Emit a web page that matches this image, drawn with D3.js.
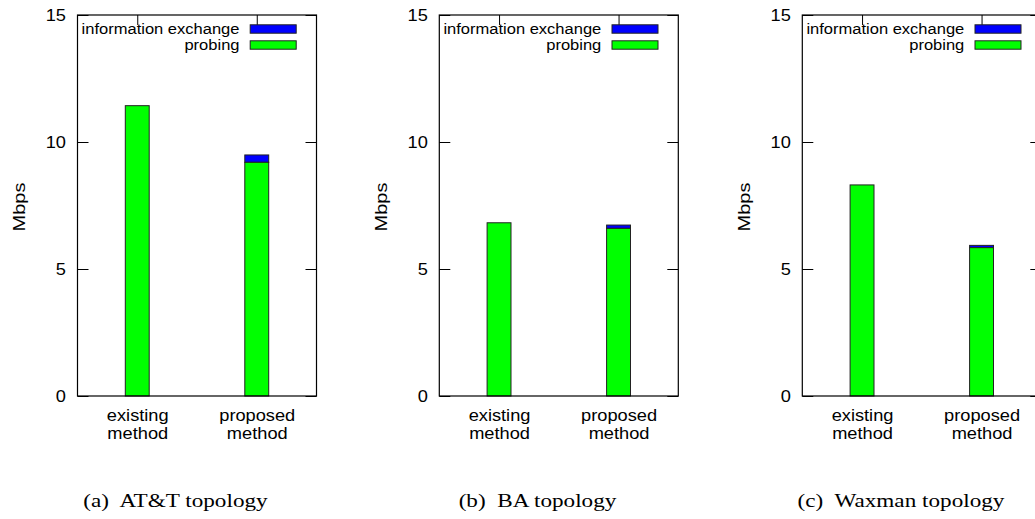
<!DOCTYPE html>
<html>
<head>
<meta charset="utf-8">
<script src="https://cdn.jsdelivr.net/npm/d3@7"></script>
<style>
  html, body { margin: 0; padding: 0; background: #fff; }
  svg { display: block; }
  text { font-family: "Liberation Sans", Arial, Helvetica, sans-serif; fill: #000; }
  .cap { font-family: "Liberation Serif", "Times New Roman", serif; white-space: pre; }
</style>
</head>
<body>
<svg id="chart" width="1035" height="519"></svg>
<script>
// ---------- data ----------
const categories = [["existing", "method"], ["proposed", "method"]];
const captions = ["(a)  AT&T topology", "(b)  BA topology", "(c)  Waxman topology"];
const seriesNames = ["information exchange", "probing"];
const seriesColors = ["#0000ff", "#00ff00"];
const probingATT = [11.43, 9.2];
const infoATT = [0, 0.29];
const probingBA = [6.82, 6.60];
const infoBA = [0, 0.13];
const probingWaxman = [8.31, 5.84];
const infoWaxman = [0, 0.09];
const yTicks = [0, 5, 10, 15];
const yLabel = "Mbps";

const probing = [probingATT, probingBA, probingWaxman];
const info = [infoATT, infoBA, infoWaxman];

// ---------- layout ----------
const svg = d3.select("#chart");
const panelLeft = [77.5, 439.3, 802.3];
const captionX = [175.5, 537.5, 901];
const plotW = 239, plotTop = 15, plotBottom = 396;
const sansScale = 1.14, serifScale = 1.22;

function stretchText(sel, x, y, sx, rot) {
  sel.attr("transform", `translate(${x},${y})` + (rot ? ` rotate(${rot})` : "") + ` scale(${sx},1)`);
}

panelLeft.forEach((left, p) => {
  const g = svg.append("g");
  const x = d3.scaleLinear().domain([-0.5, 1.5]).range([left, left + plotW]);
  const y = d3.scaleLinear().domain([0, 15]).range([plotBottom, plotTop]);
  const barW = x(0.1) - x(-0.1);

  // bars (stacked: probing at bottom, info on top)
  const data = categories.map((c, i) => ({ i, probing: probing[p][i], info: info[p][i] }));
  data.forEach(d => {
    if (d.info > 0) {
      g.append("rect")
        .attr("x", x(d.i) - barW / 2).attr("width", barW)
        .attr("y", y(d.probing + d.info)).attr("height", y(d.probing) - y(d.probing + d.info))
        .attr("fill", seriesColors[0]).attr("stroke", "#222").attr("stroke-width", 1);
    }
    g.append("rect")
      .attr("x", x(d.i) - barW / 2).attr("width", barW)
      .attr("y", y(d.probing)).attr("height", y(0) - y(d.probing))
      .attr("fill", seriesColors[1]).attr("stroke", "#222").attr("stroke-width", 1);
  });

  // axes (inward ticks)
  const left_ = g.append("g").attr("transform", `translate(${left},0)`)
    .call(d3.axisLeft(y).tickValues(yTicks).tickSize(-11).tickPadding(11).tickFormat(d3.format("d")));
  left_.select(".domain").remove();
  left_.selectAll(".tick line").attr("stroke", "#000");
  left_.selectAll(".tick text").each(function () {
    const t = d3.select(this);
    t.attr("x", null).attr("dy", null).attr("font-size", 16).attr("font-family", null)
      .attr("dominant-baseline", "central");
    stretchText(t, -11.5, 0, sansScale);
  });

  const right_ = g.append("g").attr("transform", `translate(${left + plotW},0)`)
    .call(d3.axisRight(y).tickValues(yTicks).tickSize(-11).tickFormat(""));
  right_.select(".domain").remove();
  right_.selectAll(".tick line").attr("stroke", "#000");

  const top_ = g.append("g").attr("transform", `translate(0,${plotTop})`)
    .call(d3.axisTop(x).tickValues([0, 1]).tickSize(-10).tickFormat(""));
  top_.select(".domain").remove();
  top_.selectAll(".tick line").attr("stroke", "#000");

  // bottom category labels
  const bottom_ = g.append("g").attr("transform", `translate(0,${plotBottom})`)
    .call(d3.axisBottom(x).tickValues([0, 1]).tickSize(0).tickFormat(""));
  bottom_.select(".domain").remove();
  bottom_.selectAll(".tick").each(function (v) {
    const tk = d3.select(this);
    categories[v].forEach((line, li) => {
      const t = tk.append("text").attr("text-anchor", "middle").attr("font-size", 16).text(line);
      stretchText(t, 0, 25 + li * 18.3, sansScale);
    });
  });

  // frame
  g.append("rect").attr("x", left).attr("y", plotTop).attr("width", plotW).attr("height", plotBottom - plotTop)
    .attr("fill", "none").attr("stroke", "#000").attr("stroke-width", 1.2);

  // legend
  seriesNames.forEach((name, k) => {
    const ly = plotTop + 14 + k * 16;
    const t = g.append("text").attr("text-anchor", "end").attr("font-size", 14.5)
      .attr("dominant-baseline", "central").text(name);
    stretchText(t, left + 162, ly, sansScale);
    g.append("rect").attr("x", left + 172.7).attr("y", ly - 4.2).attr("width", 46).attr("height", 8.4)
      .attr("fill", seriesColors[k]).attr("stroke", "#222").attr("stroke-width", 1);
  });

  // y label
  const yl = g.append("text").attr("text-anchor", "middle").attr("font-size", 17)
    .attr("dominant-baseline", "central").text(yLabel);
  stretchText(yl, left - 58.5, (plotTop + plotBottom) / 2 + 1.5, 1.18, -90);

  // caption
  const cap = svg.append("text").attr("class", "cap").attr("text-anchor", "middle")
    .attr("font-size", 19).text(captions[p]);
  stretchText(cap, captionX[p], 507, serifScale);
});
</script>
</body>
</html>
